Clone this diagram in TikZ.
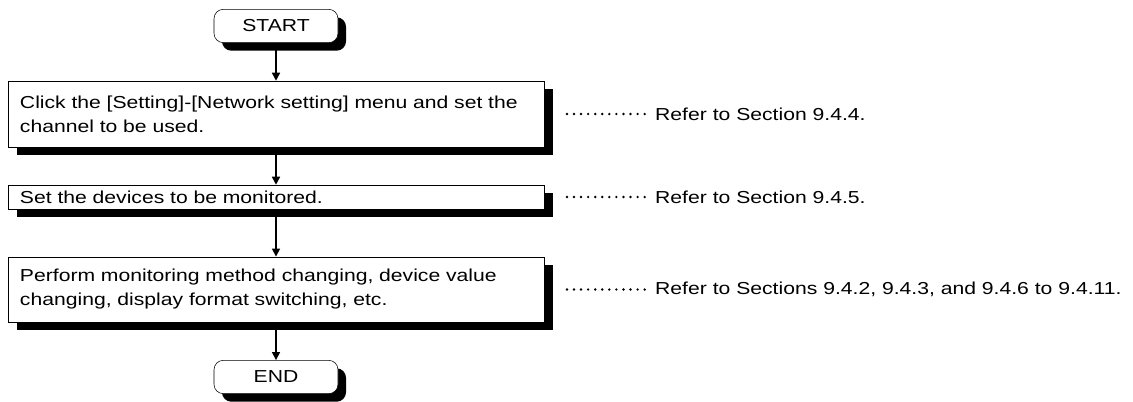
\documentclass[tikz,border=0pt]{standalone}
\usepackage{fontspec}
\setmainfont{Liberation Sans}[FakeStretch=1.22]
\usetikzlibrary{positioning,shadows,arrows.meta}

\begin{document}
\begin{tikzpicture}[
    x=0.75pt, y=-0.75pt, every node/.style={font=\fontsize{13}{18}\selectfont},
    terminal/.style={rectangle, draw, fill=white, rounded corners=7pt, minimum width=93pt, minimum height=25pt, drop shadow={shadow xshift=6pt, shadow yshift=-6pt, fill=black, opacity=1}},
    process/.style={rectangle, draw, fill=white, text width=384pt, inner xsep=9pt, inner ysep=0pt, align=left, drop shadow={shadow xshift=6.5pt, shadow yshift=-6pt, fill=black, opacity=1}},
    ref/.style={inner sep=0pt},
    arrow/.style={-{Triangle[length=6pt,width=6pt]}, line width=1.1pt},
    leader/.style={line width=2pt, line cap=round, dash pattern=on 0pt off 5.3pt}
]
\useasboundingbox (0,0) rectangle (1133,401);

\node[terminal] (start) at (276,26) {START};
\node[process, minimum height=49.5pt] (setnet) at (276,114) {Click the [Setting]-[Network setting] menu and set the\\channel to be used.};
\node[process, minimum height=18pt] (setdev) at (276,197) {Set the devices to be monitored.};
\node[process, minimum height=49pt] (perform) at (276,289.5) {Perform monitoring method changing, device value\\changing, display format switching, etc.};
\node[terminal] (end) at (276,377) {END};

\node[ref, right=83pt of setnet] (ref1) {Refer to Section 9.4.4.};
\node[ref, right=83pt of setdev] (ref2) {Refer to Section 9.4.5.};
\node[ref, right=83pt of perform] (ref3) {Refer to Sections 9.4.2, 9.4.3, and 9.4.6 to 9.4.11.};

\draw[arrow] (start) -- (setnet);
\draw[arrow] (setnet) -- (setdev);
\draw[arrow] (setdev) -- (perform);
\draw[arrow] (perform) -- (end);

\draw[leader] ([xshift=17pt]setnet.east) -- ([xshift=-6.5pt]ref1.west);
\draw[leader] ([xshift=17pt]setdev.east) -- ([xshift=-6.5pt]ref2.west);
\draw[leader] ([xshift=17pt]perform.east) -- ([xshift=-6.5pt]ref3.west);
\end{tikzpicture}
\end{document}
